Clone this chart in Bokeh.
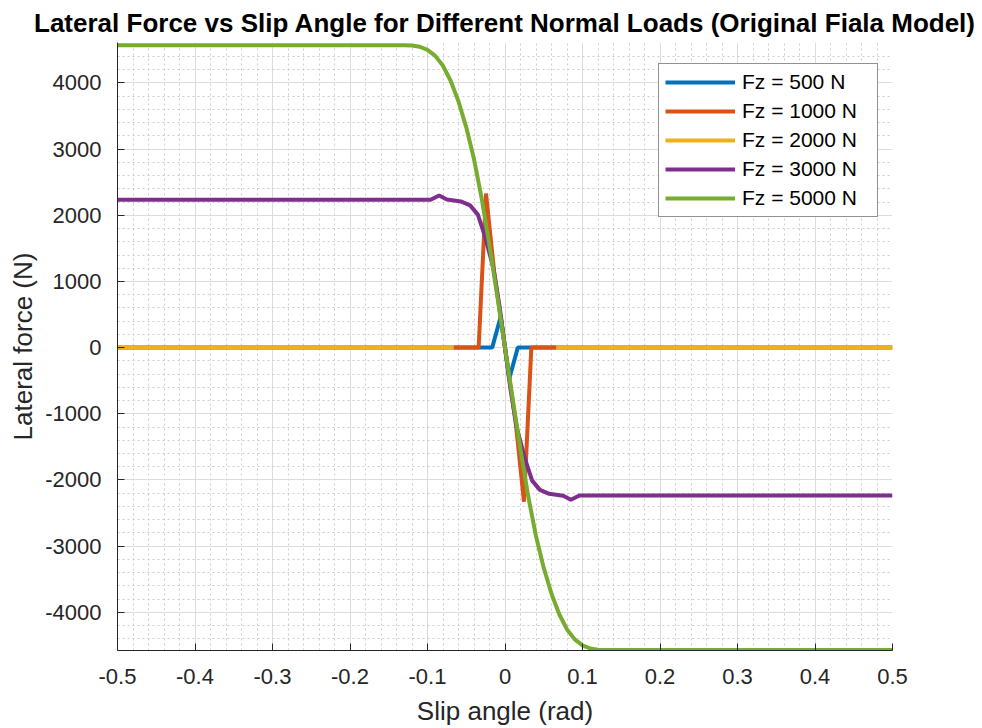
import numpy as np
from bokeh.plotting import figure
from bokeh.models import FixedTicker, Legend, LegendItem
from bokeh.embed import file_html
from bokeh.resources import INLINE

# ---- data (slip angle in rad, lateral force in N) ----
slip_500 = [-0.5, -0.0165, -0.0055, 0.0055, 0.0165, 0.5]
fy_500 = [0, 0, 470, -470, 0, 0]

slip_1000 = [-0.066, -0.034, -0.0245, -0.014, 0.0, 0.014, 0.0245, 0.034, 0.066]
fy_1000 = [0, 0, 2330, 1150, 0, -1150, -2330, 0, 0]

slip_2000 = [-0.5, -0.066, 0.0, 0.066, 0.5]
fy_2000 = [0, 0, np.nan, 0, 0]

slip_3000 = [-0.5, -0.096, -0.085, -0.075, -0.057, -0.045, -0.035, -0.025, -0.015, -0.007, 0.0,
             0.007, 0.015, 0.025, 0.035, 0.045, 0.057, 0.075, 0.085, 0.096, 0.5]
fy_3000 = [2235, 2235, 2300, 2240, 2210, 2150, 2010, 1650, 1200, 620, 0,
           -620, -1200, -1650, -2010, -2150, -2210, -2240, -2300, -2235, -2235]

slip_5000 = [-0.5, -0.13, -0.12, -0.11, -0.10, -0.09, -0.08, -0.07, -0.06, -0.05, -0.04, -0.03, -0.02, -0.01, 0.0,
             0.01, 0.02, 0.03, 0.04, 0.05, 0.06, 0.07, 0.08, 0.09, 0.10, 0.11, 0.12, 0.13, 0.5]
fy_5000 = [4572, 4572, 4568, 4548, 4500, 4410, 4260, 4030, 3720, 3330, 2850, 2250, 1540, 780, 0,
           -780, -1540, -2250, -2850, -3330, -3720, -4030, -4260, -4410, -4500, -4548, -4568, -4572, -4572]

labels = ["Fz = 500 N", "Fz = 1000 N", "Fz = 2000 N", "Fz = 3000 N", "Fz = 5000 N"]
colors = ["#0072BD", "#D95319", "#EDB120", "#7E2F8E", "#77AC30"]

x_ticks = [-0.5, -0.4, -0.3, -0.2, -0.1, 0, 0.1, 0.2, 0.3, 0.4, 0.5]
x_tick_labels = ["-0.5", "-0.4", "-0.3", "-0.2", "-0.1", "0", "0.1", "0.2", "0.3", "0.4", "0.5"]
x_minor = [round(-0.5 + 0.02 * i, 2) for i in range(51)]
y_ticks = [-4000, -3000, -2000, -1000, 0, 1000, 2000, 3000, 4000]
y_tick_labels = ["-4000", "-3000", "-2000", "-1000", "0", "1000", "2000", "3000", "4000"]
y_minor = [-4400 + 200 * i for i in range(45)]

FONT = "Liberation Sans"
AX = "#262626"

p = figure(width=982, height=728, x_range=(-0.5, 0.5), y_range=(-4578, 4612),
           output_backend="svg", toolbar_location=None,
           min_border_left=117, min_border_right=90, min_border_top=40, min_border_bottom=76)

p.title.text = "Lateral Force vs Slip Angle for Different Normal Loads (Original Fiala Model)"
p.title.align = "center"
p.title.text_font = FONT
p.title.text_font_size = "26px"
p.title.text_font_style = "bold"
p.title.text_color = "#000000"
p.title.standoff = 10
p.outline_line_color = None
p.background_fill_color = "white"
p.border_fill_color = "white"

for ax, tk, tl, mn in ((p.xaxis[0], x_ticks, x_tick_labels, x_minor),
                       (p.yaxis[0], y_ticks, y_tick_labels, y_minor)):
    ax.ticker = FixedTicker(ticks=tk, minor_ticks=mn)
    ax.major_label_overrides = {t: s for t, s in zip(tk, tl)}
    ax.axis_line_color = AX
    ax.axis_line_width = 1
    ax.major_tick_line_color = AX
    ax.major_tick_in = 7
    ax.major_tick_out = 0
    ax.minor_tick_line_color = None
    ax.major_label_text_font = FONT
    ax.major_label_text_font_size = "22px"
    ax.major_label_text_color = AX
    ax.axis_label_text_font = FONT
    ax.axis_label_text_font_size = "26px"
    ax.axis_label_text_font_style = "normal"
    ax.axis_label_text_color = AX

p.xaxis.axis_label = "Slip angle (rad)"
p.yaxis.axis_label = "Lateral force (N)"
p.xaxis.major_label_standoff = 14
p.xaxis.axis_label_standoff = 9
p.yaxis.major_label_standoff = 12
p.yaxis.axis_label_standoff = 4

for g in (p.xgrid[0], p.ygrid[0]):
    g.grid_line_color = "#dcdcdc"
    g.grid_line_width = 1
    g.minor_grid_line_color = "#cdcdcd"
    g.minor_grid_line_dash = "2 3"
    g.minor_grid_line_width = 1

series = [(slip_500, fy_500), (slip_1000, fy_1000), (slip_2000, fy_2000),
          (slip_3000, fy_3000), (slip_5000, fy_5000)]
items = []
for (xs, ys), lab, col in zip(series, labels, colors):
    r = p.line(xs, ys, line_color=col, line_width=4)
    items.append(LegendItem(label=lab, renderers=[r]))

legend = Legend(items=items, location=(541, 433))
legend.glyph_width = 70
legend.glyph_height = 20
legend.label_height = 20
legend.label_width = 129
legend.spacing = 5
legend.padding = 6
legend.margin = 0
legend.label_standoff = 7
legend.label_text_font = FONT
legend.label_text_font_size = "21px"
legend.label_text_color = "#000000"
legend.border_line_color = AX
legend.border_line_width = 1
legend.background_fill_color = "white"
legend.background_fill_alpha = 1.0
p.add_layout(legend, "center")

open("out.html", "w").write(file_html(p, INLINE))
